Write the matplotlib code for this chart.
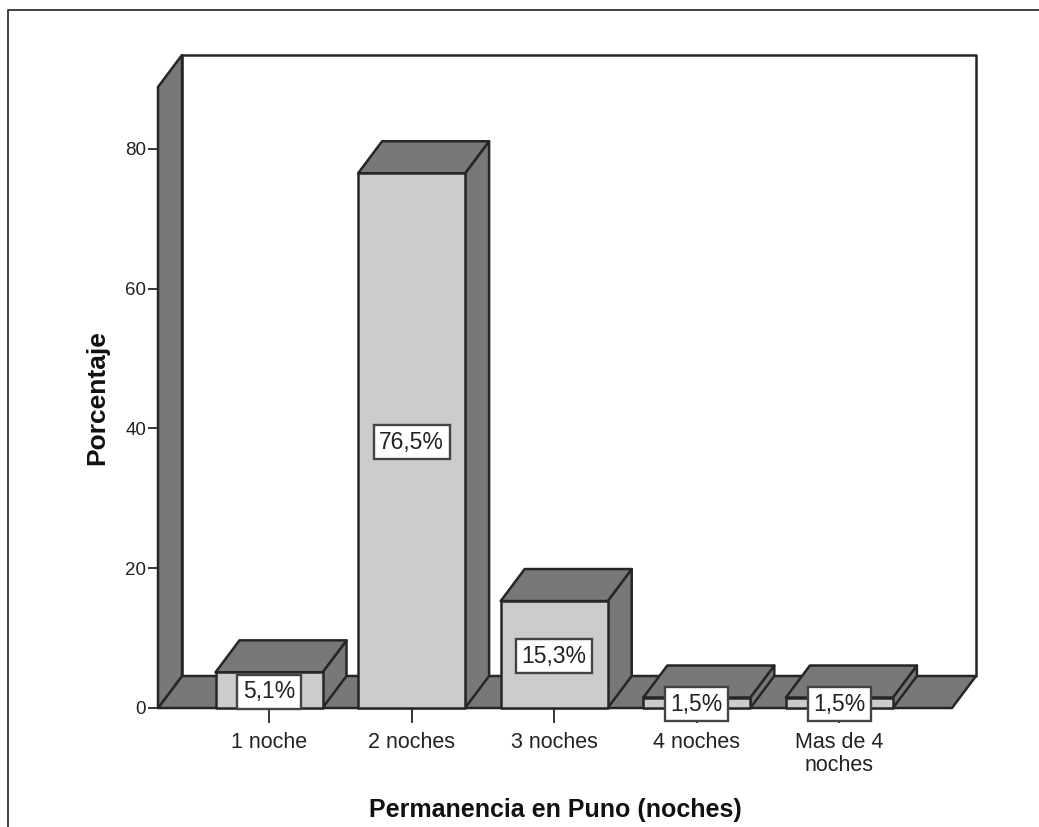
import matplotlib

matplotlib.use("Agg")
import matplotlib.pyplot as plt
from matplotlib.lines import Line2D
from matplotlib.patches import Polygon

categories = ["1 noche", "2 noches", "3 noches", "4 noches", "Mas de 4\nnoches"]
porcentaje = [5.1, 76.5, 15.3, 1.5, 1.5]
etiquetas = ["5,1%", "76,5%", "15,3%", "1,5%", "1,5%"]
y_ticks = [0, 20, 40, 60, 80]

W, H = 1039, 827
DARK = "#787878"
LIGHT = "#cccccc"
EDGE = "#262626"
LW = 1.8

# Pixel layout of the front plane of the 3D box.
LEFT, RIGHT, BOTTOM, TOP = 158, 952, 708, 87
PX_PER_CAT = 142.6
PX_PER_UNIT = 6.99
X0 = 269  # centre of first category
DEPTH_X = 24 / PX_PER_CAT
DEPTH_Y = 32 / PX_PER_UNIT
BAR_W = 107 / PX_PER_CAT

plt.rcParams["font.family"] = ["Liberation Sans", "DejaVu Sans"]

fig = plt.figure(figsize=(W / 100, H / 100), dpi=100)
ax = fig.add_axes(
    [LEFT / W, 1 - BOTTOM / H, (RIGHT - LEFT) / W, (BOTTOM - TOP) / H]
)
ax.patch.set_visible(False)
for s in ax.spines.values():
    s.set_visible(False)

x_min = (LEFT - X0) / PX_PER_CAT
x_max = (RIGHT - X0) / PX_PER_CAT
y_max = (BOTTOM - TOP) / PX_PER_UNIT
ax.set_xlim(x_min, x_max)
ax.set_ylim(0, y_max)


def face(points, color, z):
    ax.add_patch(
        Polygon(
            points,
            closed=True,
            facecolor=color,
            edgecolor=EDGE,
            linewidth=LW,
            joinstyle="round",
            clip_on=False,
            zorder=z,
        )
    )


# Back wall, floor and left wall.
face(
    [
        (x_min + DEPTH_X, DEPTH_Y),
        (x_max + DEPTH_X, DEPTH_Y),
        (x_max + DEPTH_X, y_max + DEPTH_Y),
        (x_min + DEPTH_X, y_max + DEPTH_Y),
    ],
    "white",
    1,
)
face(
    [
        (x_min, 0),
        (x_max, 0),
        (x_max + DEPTH_X, DEPTH_Y),
        (x_min + DEPTH_X, DEPTH_Y),
    ],
    DARK,
    2,
)
face(
    [
        (x_min, 0),
        (x_min, y_max),
        (x_min + DEPTH_X, y_max + DEPTH_Y),
        (x_min + DEPTH_X, DEPTH_Y),
    ],
    DARK,
    2,
)

# The bars: front, top and side face.
for i, v in enumerate(porcentaje):
    l, r = i - BAR_W / 2, i + BAR_W / 2
    z = 3 + i
    face(
        [(r, 0), (r + DEPTH_X, DEPTH_Y), (r + DEPTH_X, v + DEPTH_Y), (r, v)],
        DARK,
        z,
    )
    face(
        [(l, v), (r, v), (r + DEPTH_X, v + DEPTH_Y), (l + DEPTH_X, v + DEPTH_Y)],
        DARK,
        z,
    )
    face([(l, 0), (r, 0), (r, v), (l, v)], LIGHT, z)

for i, v in enumerate(porcentaje):
    ax.annotate(
        etiquetas[i],
        xy=(i, v / 2),
        xytext=(0, -1.2),
        textcoords="offset points",
        ha="center",
        va="center",
        fontsize=16.5,
        color="#222222",
        zorder=10,
        bbox=dict(boxstyle="square,pad=0.24", fc="white", ec="#444444", lw=1.7),
    )

ax.set_xticks(range(len(categories)))
ax.set_xticklabels(categories, linespacing=1.12)
ax.set_yticks(y_ticks)
ax.tick_params(axis="x", length=11, width=1.3, labelsize=15.5, pad=6.5, color=EDGE, labelcolor="#222222")
ax.tick_params(axis="y", length=7.5, width=1.3, labelsize=13.5, pad=1, color=EDGE, labelcolor="#222222")

fig.text(555 / W, 1 - 810 / H, "Permanencia en Puno (noches)", fontsize=18, fontweight="bold", ha="center", va="center", color="#111111")
fig.text(97 / W, 1 - 398 / H, "Porcentaje", fontsize=19, fontweight="bold", rotation=90, ha="center", va="center", color="#111111")

# Outer frame of the chart, cut off at the right and bottom.
fig.add_artist(Line2D([8 / W, 8 / W, 1], [0, 1 - 10 / H, 1 - 10 / H], color="#333333", lw=1.3))

fig.savefig("out.png", dpi=100)
